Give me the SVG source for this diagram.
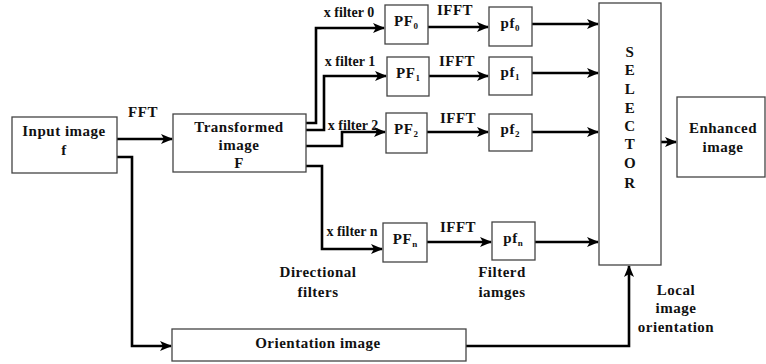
<svg xmlns="http://www.w3.org/2000/svg" width="766" height="364" viewBox="0 0 766 364" font-family="Liberation Serif, DejaVu Serif, serif">
<style>
.box{fill:#fff;stroke:#444;stroke-width:1.3}
.t{font-weight:bold;font-size:15px;letter-spacing:0.5px;fill:#111;text-anchor:middle}
.x{font-size:14px;letter-spacing:0}
.s{font-size:9px;letter-spacing:0}
.c{fill:none;stroke:#000;stroke-width:2.6;stroke-linejoin:miter}
</style>
<defs>
<marker id="a" markerUnits="userSpaceOnUse" markerWidth="12" markerHeight="10" refX="11" refY="5" orient="auto">
<path d="M0,0 L12,5 L0,10 L3,5 Z" fill="#000"/>
</marker>
</defs>
<g id="connectors">
<path class="c" d="M117,139 H172" marker-end="url(#a)"/>
<path class="c" d="M306,123 H316 V28 H384" marker-end="url(#a)"/>
<path class="c" d="M306,130 H324 V76 H386" marker-end="url(#a)"/>
<path class="c" d="M306,146 H342 V132 H385" marker-end="url(#a)"/>
<path class="c" d="M306,166 H322 V249 H382" marker-end="url(#a)"/>
<path class="c" d="M428,27 H488" marker-end="url(#a)"/>
<path class="c" d="M429,76 H488" marker-end="url(#a)"/>
<path class="c" d="M427,132 H488" marker-end="url(#a)"/>
<path class="c" d="M427,242 H491" marker-end="url(#a)"/>
<path class="c" d="M532,24 H598" marker-end="url(#a)"/>
<path class="c" d="M532,73 H598" marker-end="url(#a)"/>
<path class="c" d="M532,132 H598" marker-end="url(#a)"/>
<path class="c" d="M535,242 H598" marker-end="url(#a)"/>
<path class="c" d="M661,142 H676" marker-end="url(#a)"/>
<path class="c" d="M117,157 H132 V346 H171" marker-end="url(#a)"/>
<path class="c" d="M466,346 H629 V266" marker-end="url(#a)"/>
</g>
<g id="input"><rect class="box" x="12" y="117" width="105" height="56"/>
<text class="t" x="64" y="136">Input image</text><text class="t" x="64" y="155">f</text></g>
<g id="transformed"><rect class="box" x="173" y="114" width="133" height="58"/>
<text class="t" x="239" y="132">Transformed</text><text class="t" x="239" y="150">image</text><text class="t" x="239" y="168">F</text></g>
<g id="PF0"><rect class="box" x="385" y="5" width="43" height="39"/><text class="t" x="406" y="26">PF<tspan class="s" dy="3">0</tspan></text></g>
<g id="PF1"><rect class="box" x="387" y="57" width="42" height="39"/><text class="t" x="408" y="78">PF<tspan class="s" dy="3">1</tspan></text></g>
<g id="PF2"><rect class="box" x="386" y="113" width="41" height="40"/><text class="t" x="406" y="134">PF<tspan class="s" dy="3">2</tspan></text></g>
<g id="PFn"><rect class="box" x="383" y="223" width="44" height="39"/><text class="t" x="405" y="244">PF<tspan class="s" dy="3">n</tspan></text></g>
<g id="pf0"><rect class="box" x="489" y="7" width="43" height="39"/><text class="t" x="510" y="28">pf<tspan class="s" dy="3">0</tspan></text></g>
<g id="pf1"><rect class="box" x="489" y="57" width="43" height="38"/><text class="t" x="510" y="77">pf<tspan class="s" dy="3">1</tspan></text></g>
<g id="pf2"><rect class="box" x="489" y="114" width="43" height="37"/><text class="t" x="510" y="134">pf<tspan class="s" dy="3">2</tspan></text></g>
<g id="pfn"><rect class="box" x="492" y="222" width="43" height="38"/><text class="t" x="513" y="243">pf<tspan class="s" dy="3">n</tspan></text></g>
<g id="selector"><rect class="box" x="599" y="3" width="62" height="262"/>
<text class="t" x="630" y="57">S</text><text class="t" x="630" y="75">E</text><text class="t" x="630" y="94">L</text><text class="t" x="630" y="113">E</text><text class="t" x="630" y="131">C</text><text class="t" x="630" y="149">T</text><text class="t" x="630" y="168">O</text><text class="t" x="630" y="188">R</text></g>
<g id="enhanced"><rect class="box" x="677" y="97" width="88" height="80"/>
<text class="t" x="723" y="133">Enhanced</text><text class="t" x="723" y="152">image</text></g>
<g id="orientation"><rect class="box" x="172" y="329" width="294" height="32"/>
<text class="t" x="318" y="348">Orientation image</text></g>
<g id="labels">
<text class="t" x="143" y="117">FFT</text>
<text class="t x" x="349" y="17">x filter 0</text>
<text class="t x" x="350" y="66">x filter 1</text>
<text class="t x" x="353" y="130">x filter 2</text>
<text class="t x" x="352" y="236">x filter n</text>
<text class="t" x="455" y="15">IFFT</text>
<text class="t" x="457" y="66">IFFT</text>
<text class="t" x="458" y="123">IFFT</text>
<text class="t" x="458" y="232">IFFT</text>
<text class="t" x="318" y="277">Directional</text>
<text class="t" x="318" y="297">filters</text>
<text class="t" x="502" y="277">Filterd</text>
<text class="t" x="502" y="297">iamges</text>
<text class="t" x="676" y="295">Local</text>
<text class="t" x="676" y="313">image</text>
<text class="t" x="676" y="332">orientation</text>
</g>
</svg>
